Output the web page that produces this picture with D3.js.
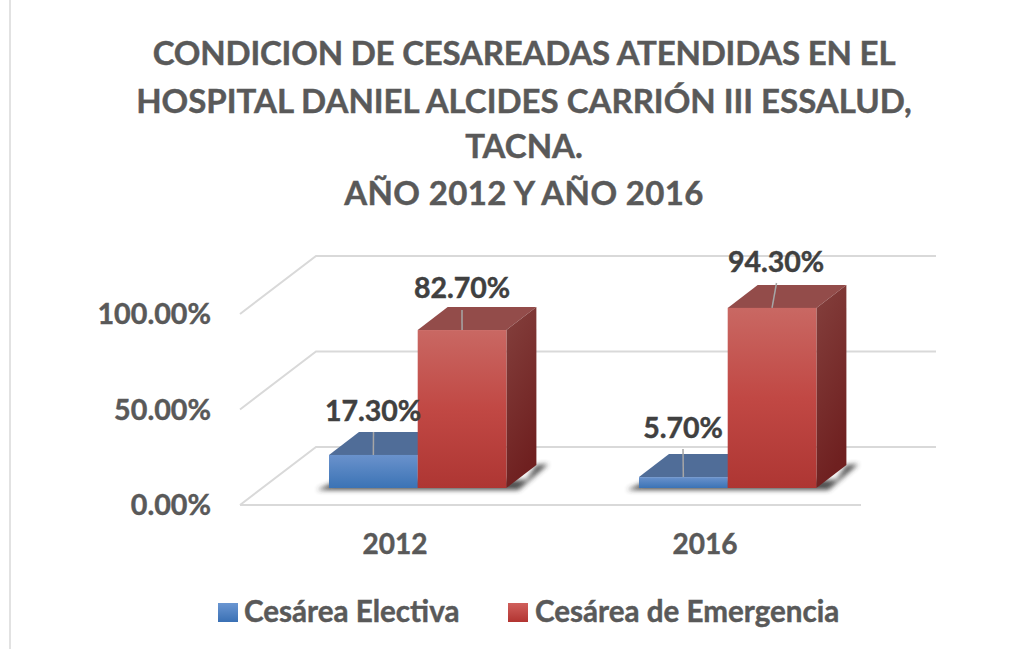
<!DOCTYPE html>
<html><head><meta charset="utf-8">
<script src="https://cdnjs.cloudflare.com/ajax/libs/d3/7.8.5/d3.min.js"></script>
<style>html,body{margin:0;background:#fff}svg{display:block}text{font-family:Lato,"Open Sans",sans-serif;font-weight:700;stroke:currentColor;stroke-width:.45px}</style>
</head><body><svg id="c" width="1033" height="649"></svg>
<script>
const titleLines=["CONDICION DE CESAREADAS ATENDIDAS EN EL","HOSPITAL DANIEL ALCIDES CARRIÓN III ESSALUD,","TACNA.","AÑO 2012 Y AÑO 2016"];
const categories=["2012","2016"];
const seriesNames=["Cesárea Electiva","Cesárea de Emergencia"];
const electiva=[17.3,5.7];
const emergencia=[82.7,94.3];
const ticks=[0,50,100];

const W=1033,H=649;
const svg=d3.select("#c");
const defs=svg.append("defs");
function grad(id,stops,x2=0,y2=1){const g=defs.append("linearGradient").attr("id",id).attr("x1",0).attr("y1",0).attr("x2",x2).attr("y2",y2);
  stops.forEach(s=>g.append("stop").attr("offset",s[0]).attr("stop-color",s[1]));}
grad("bf",[[0,"#6a92cc"],[1,"#3b73b5"]]);
grad("rf",[[0,"#c96863"],[.5,"#c14844"],[1,"#ae3633"]]);
grad("rs",[[0,"#84403d"],[1,"#6f2020"]],0.3,1);
grad("lb",[[0,"#6a96d2"],[1,"#3a70b4"]]);
grad("lr",[[0,"#d0605c"],[1,"#b23431"]]);
defs.append("filter").attr("id","blur").attr("x","-20%").attr("y","-50%").attr("width","140%").attr("height","200%")
  .append("feGaussianBlur").attr("stdDeviation",2.6);

// border
svg.append("line").attr("x1",10).attr("x2",10).attr("y1",0).attr("y2",H).attr("stroke","#e2e2e2").attr("stroke-width",2);

// title
const colorText=(sel,c)=>sel.attr("fill",c).style("color",c);
svg.append("g").selectAll("text").data(titleLines).join("text")
  .attr("x",524).attr("y",(d,i)=>[65,113,158,205][i]).attr("text-anchor","middle")
  .attr("letter-spacing",(d,i)=>[-0.2,0,0,0.35][i])
  .attr("font-size",33).call(colorText,"#595959").text(d=>d);

// scales
const yFront=d3.scaleLinear().domain([0,100]).range([505,314]);
const xCat=d3.scaleBand().domain(categories).range([275,895]).padding(0);
const depthX=76,depthY=-58;
const barDX=30,barDY=-23;
const planeY=-17;
const barW=88.7;
const cx=c=>xCat(c)+xCat.bandwidth()/2-12.3;

// gridlines
const grid=svg.append("g").attr("fill","none").attr("stroke","#d9d9d9").attr("stroke-width",2);
ticks.forEach(t=>{
  const y=yFront(t);
  grid.append("path").attr("d",`M240,${y}L${240+depthX},${y+depthY}H936`);
});
grid.append("line").attr("x1",240).attr("x2",861).attr("y1",yFront(0)).attr("y2",yFront(0));

// axis labels
svg.append("g").selectAll("text").data(ticks).join("text")
  .attr("x",211).attr("y",d=>yFront(d)+10).attr("text-anchor","end")
  .attr("font-size",28.7).call(colorText,"#595959").text(d=>d3.format(".2f")(d)+"%");
svg.append("g").selectAll("text").data(categories).join("text")
  .attr("x",(d,i)=>[395,705][i]).attr("y",554).attr("text-anchor","middle")
  .attr("font-size",28).call(colorText,"#595959").text(d=>d);

// shadows
const base=yFront(0)+planeY;
categories.forEach(c=>{
  const x0=cx(c)-barW;
  const x1=cx(c)+barW;
  svg.append("path").attr("d",`M${x0-12},${base+2}L${x0+10},${base-8}H${x1+20}L${x1+30},${base+barDY}L${x1+42},${base+barDY-1}L${x1+12},${base+2}Z`)
    .attr("fill","#333").attr("opacity",.85).attr("filter","url(#blur)");
});

function bar(x,v,front,top,side){
  const yt=yFront(v)+planeY;
  const g=svg.append("g");
  g.append("path").attr("d",`M${x},${yt}l${barDX},${barDY}h${barW}l${-barDX},${-barDY}Z`).attr("fill",top);
  g.append("path").attr("d",`M${x+barW},${yt}l${barDX},${barDY}V${base+barDY}L${x+barW},${base}Z`).attr("fill",side);
  g.append("rect").attr("x",x).attr("y",yt).attr("width",barW).attr("height",base-yt).attr("fill",front);
}
categories.forEach((c,i)=>{
  bar(cx(c)-barW,electiva[i],"url(#bf)","#506d98","#506d98");
  bar(cx(c),emergencia[i],"url(#rf)","#934c4a","url(#rs)");
});

// data labels and leader lines
const labels=[
 {v:electiva[0],x:cx("2012")-barW/2,lx:373,ly:421,tx:373.5,ty:432},
 {v:emergencia[0],x:cx("2012")+barW/2,lx:462,ly:298,tx:462,ty:310},
 {v:electiva[1],x:cx("2016")-barW/2,lx:683,ly:438,tx:683,ty:449},
 {v:emergencia[1],x:cx("2016")+barW/2,lx:776,ly:272,tx:776.5,ty:283}
];
labels.forEach(d=>{
  const yt=yFront(d.v)+planeY;
  svg.append("line").attr("x1",d.x).attr("y1",yt).attr("x2",d.tx).attr("y2",d.ty).attr("stroke","#a6a6a6").attr("stroke-width",1.5);
  svg.append("text").attr("x",d.lx).attr("y",d.ly).attr("text-anchor","middle").attr("font-size",28.5).call(colorText,"#404040").text(d3.format(".2f")(d.v)+"%");
});

// legend
[[218,"url(#lb)",244],[508,"url(#lr)",535]].forEach((p,i)=>{
  svg.append("rect").attr("x",p[0]).attr("y",603).attr("width",20).attr("height",19).attr("fill",p[1]);
  svg.append("text").attr("x",p[2]).attr("y",622).attr("font-size",29.6).call(colorText,"#595959").text(seriesNames[i]);
});
</script></body></html>
